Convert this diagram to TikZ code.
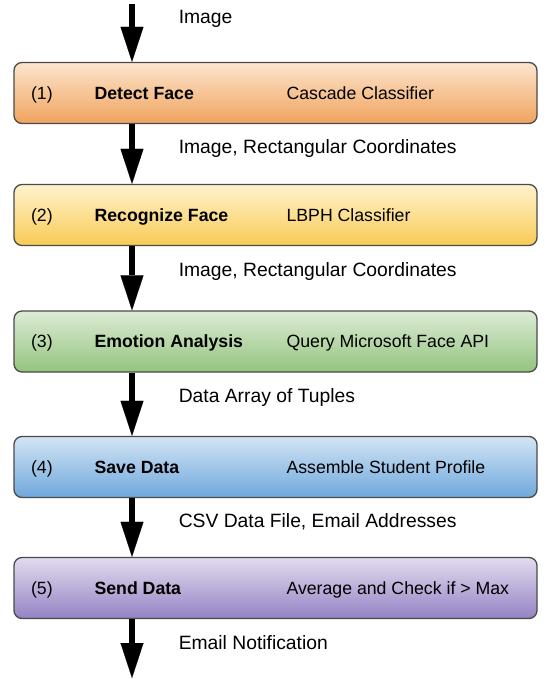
\documentclass[tikz,border=0pt]{standalone}
\usepackage{fontspec}
\setmainfont{Liberation Sans}
\usetikzlibrary{arrows.meta,positioning}
\definecolor{detectTop}{HTML}{FCE5CD}
\definecolor{detectBot}{HTML}{F0A35E}
\definecolor{recogTop}{HTML}{FFF2CC}
\definecolor{recogBot}{HTML}{F8CB55}
\definecolor{emoTop}{HTML}{DDEBD6}
\definecolor{emoBot}{HTML}{93C47D}
\definecolor{saveTop}{HTML}{D3E4F4}
\definecolor{saveBot}{HTML}{6FA8DC}
\definecolor{sendTop}{HTML}{E2DCEE}
\definecolor{sendBot}{HTML}{9482C4}
\definecolor{stageLine}{HTML}{4A4A4A}
\newcommand\stagefont{\fontsize{17.7}{21}\selectfont}
\newcommand\flowfont{\fontsize{19.3}{23}\selectfont}
\tikzset{
  stage/.style={rectangle, rounded corners=8pt, draw=stageLine, line width=1.3pt, minimum width=523pt, minimum height=61pt, inner sep=0pt},
  num/.style={anchor=base west, inner sep=0pt, font=\stagefont},
  title/.style={anchor=base west, inner sep=0pt, font=\stagefont\bfseries},
  tool/.style={anchor=base west, inner sep=0pt, font=\stagefont},
  lbl/.style={anchor=west, inner sep=0pt, font=\flowfont, xshift=44pt},
  flow/.style={-{Triangle[length=35pt,width=23pt,line width=0.1pt]}, line width=5.5pt}
}

\begin{document}
\begin{tikzpicture}[x=1pt, y=-1pt]
  \useasboundingbox (0,0) rectangle (546,679);
  \node[stage, top color=detectTop, bottom color=detectBot] (detect) at (275.5,93) {};
  \node[stage, top color=recogTop, bottom color=recogBot] (recog) at (275.5,215) {};
  \node[stage, top color=emoTop, bottom color=emoBot] (emotion) at (275.5,341.5) {};
  \node[stage, top color=saveTop, bottom color=saveBot] (save) at (275.5,467) {};
  \node[stage, top color=sendTop, bottom color=sendBot] (send) at (275.5,588) {};

  \node[num] at ([xshift=17.5pt,yshift=-6.3pt]detect.west) {(1)};
  \node[title] at ([xshift=81pt,yshift=-6.3pt]detect.west) {Detect Face};
  \node[tool] at ([xshift=273pt,yshift=-6.3pt]detect.west) {Cascade Classifier};
  \node[num] at ([xshift=17.5pt,yshift=-6.3pt]recog.west) {(2)};
  \node[title] at ([xshift=81pt,yshift=-6.3pt]recog.west) {Recognize Face};
  \node[tool] at ([xshift=273pt,yshift=-6.3pt]recog.west) {LBPH Classifier};
  \node[num] at ([xshift=17.5pt,yshift=-6.3pt]emotion.west) {(3)};
  \node[title] at ([xshift=81pt,yshift=-6.3pt]emotion.west) {Emotion Analysis};
  \node[tool] at ([xshift=273pt,yshift=-6.3pt]emotion.west) {Query Microsoft Face API};
  \node[num] at ([xshift=17.5pt,yshift=-6.3pt]save.west) {(4)};
  \node[title] at ([xshift=81pt,yshift=-6.3pt]save.west) {Save Data};
  \node[tool] at ([xshift=273pt,yshift=-6.3pt]save.west) {Assemble Student Profile};
  \node[num] at ([xshift=17.5pt,yshift=-6.3pt]send.west) {(5)};
  \node[title] at ([xshift=81pt,yshift=-6.3pt]send.west) {Send Data};
  \node[tool] at ([xshift=273pt,yshift=-6.3pt]send.west) {Average and Check if > Max};

  \coordinate (in) at (132,4);
  \coordinate (out) at (132,678);
  \draw[flow] (in) -- node[lbl, pos=0.26] {Image} (in |- detect.north);
  \draw[flow] (in |- detect.south) -- node[lbl, pos=0.4] {Image, Rectangular Coordinates} (in |- recog.north);
  \draw[flow] (in |- recog.south) -- node[lbl, pos=0.4] {Image, Rectangular Coordinates} (in |- emotion.north);
  \draw[flow] (in |- emotion.south) -- node[lbl, pos=0.4] {Data Array of Tuples} (in |- save.north);
  \draw[flow] (in |- save.south) -- node[lbl, pos=0.4] {CSV Data File, Email Addresses} (in |- send.north);
  \draw[flow] (in |- send.south) -- node[lbl, pos=0.4] {Email Notification} (out);
\end{tikzpicture}
\end{document}
